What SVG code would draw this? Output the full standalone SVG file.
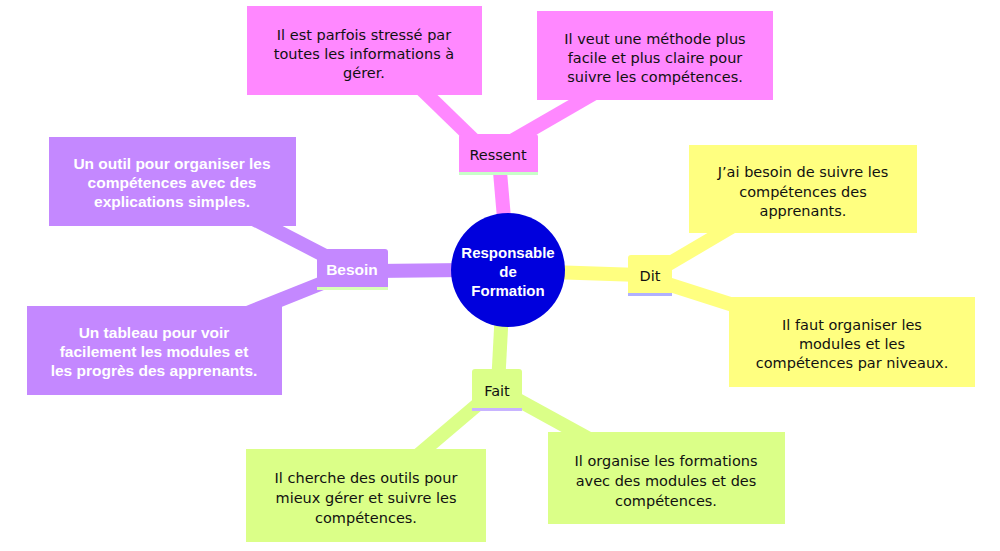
<svg xmlns="http://www.w3.org/2000/svg" width="1000" height="551" viewBox="0 0 1000 551">
<style>
.t{font-family:"DejaVu Sans","Liberation Sans",sans-serif;font-size:14.5px;text-anchor:middle;fill:#111}
.w{font-family:"Liberation Sans",Arial,sans-serif;font-size:15.5px;fill:#fff;font-weight:bold}
.c{font-family:"Liberation Sans",Arial,sans-serif;font-size:15px;text-anchor:middle;fill:#fff;font-weight:bold}
.pk{fill:#FF88FF}.pu{fill:#C488FF}.ye{fill:#FFFF80}.gr{fill:#DBFF88}
.lp{stroke:#FF88FF}.lu{stroke:#C488FF}.ly{stroke:#FFFF80}.lg{stroke:#DBFF88}
#connectors line{stroke-width:14;stroke-linecap:butt;fill:none}
</style>
<rect width="1000" height="551" fill="#fff"/>
<g id="connectors">
<line class="lp" x1="412" y1="80" x2="480" y2="146"/>
<line class="lp" x1="600" y1="90" x2="510" y2="142"/>
<line class="lp" x1="499" y1="160" x2="505" y2="230"/>
<line class="lu" x1="240" y1="212" x2="335" y2="261"/>
<line class="lu" x1="235" y1="318" x2="335" y2="278"/>
<line class="lu" x1="465" y1="270" x2="375" y2="271"/>
<line class="ly" x1="550" y1="272" x2="640" y2="275"/>
<line class="ly" x1="655" y1="272" x2="745" y2="219"/>
<line class="ly" x1="655" y1="280" x2="755" y2="312"/>
<line class="lg" x1="502" y1="310" x2="498" y2="385"/>
<line class="lg" x1="490" y1="394" x2="410" y2="462"/>
<line class="lg" x1="500" y1="390" x2="600" y2="445"/>
</g>
<g id="center">
<circle cx="508" cy="270" r="57" fill="#0000DD"/>
<text class="c" x="508" y="258">Responsable</text>
<text class="c" x="508" y="277">de</text>
<text class="c" x="508" y="296">Formation</text>
</g>
<g id="ressent">
<rect x="459" y="172" width="79" height="3" fill="#C8FFC8"/>
<path class="pk" d="M459,137a3,3 0 0 1 3,-3h73a3,3 0 0 1 3,3v35h-79z"/>
<text class="t" x="498" y="160">Ressent</text>
</g>
<g id="ressent-1">
<rect class="pk" x="247" y="6" width="235" height="89"/>
<text class="t" x="364" y="40">Il est parfois stressé par</text>
<text class="t" x="364" y="59">toutes les informations à</text>
<text class="t" x="364" y="78">gérer.</text>
</g>
<g id="ressent-2">
<rect class="pk" x="537" y="11" width="236" height="89"/>
<text class="t" x="655" y="44">Il veut une méthode plus</text>
<text class="t" x="655" y="63">facile et plus claire pour</text>
<text class="t" x="655" y="82">suivre les compétences.</text>
</g>
<g id="besoin">
<rect x="317" y="287" width="71" height="3" fill="#D8FFB8"/>
<path class="pu" d="M317,287v-35a3,3 0 0 1 3,-3h65a3,3 0 0 1 3,3v35z"/>
<text class="t w" x="352" y="275">Besoin</text>
</g>
<g id="besoin-1">
<rect class="pu" x="49" y="137" width="247" height="89"/>
<text class="t w" x="172" y="169">Un outil pour organiser les</text>
<text class="t w" x="172" y="188">compétences avec des</text>
<text class="t w" x="172" y="207">explications simples.</text>
</g>
<g id="besoin-2">
<rect class="pu" x="27" y="306" width="255" height="89"/>
<text class="t w" x="154" y="338">Un tableau pour voir</text>
<text class="t w" x="154" y="357">facilement les modules et</text>
<text class="t w" x="154" y="376">les progrès des apprenants.</text>
</g>
<g id="dit">
<rect x="628" y="293" width="44" height="3" fill="#B0B0FF"/>
<path class="ye" d="M628,293v-35a3,3 0 0 1 3,-3h38a3,3 0 0 1 3,3v35z"/>
<text class="t" x="650" y="281">Dit</text>
</g>
<g id="dit-1">
<rect class="ye" x="689" y="145" width="228" height="88"/>
<text class="t" x="803" y="177">J’ai besoin de suivre les</text>
<text class="t" x="803" y="197">compétences des</text>
<text class="t" x="803" y="216">apprenants.</text>
</g>
<g id="dit-2">
<rect class="ye" x="729" y="297" width="246" height="90"/>
<text class="t" x="852" y="330">Il faut organiser les</text>
<text class="t" x="852" y="349">modules et les</text>
<text class="t" x="852" y="368">compétences par niveaux.</text>
</g>
<g id="fait">
<rect x="472" y="408" width="50" height="3" fill="#C8B4FF"/>
<path class="gr" d="M472,408v-36a3,3 0 0 1 3,-3h44a3,3 0 0 1 3,3v36z"/>
<text class="t" x="497" y="396">Fait</text>
</g>
<g id="fait-1">
<rect class="gr" x="246" y="449" width="240" height="93"/>
<text class="t" x="366" y="483">Il cherche des outils pour</text>
<text class="t" x="366" y="503">mieux gérer et suivre les</text>
<text class="t" x="366" y="523">compétences.</text>
</g>
<g id="fait-2">
<rect class="gr" x="548" y="432" width="237" height="92"/>
<text class="t" x="666" y="466">Il organise les formations</text>
<text class="t" x="666" y="486">avec des modules et des</text>
<text class="t" x="666" y="506">compétences.</text>
</g>
</svg>
